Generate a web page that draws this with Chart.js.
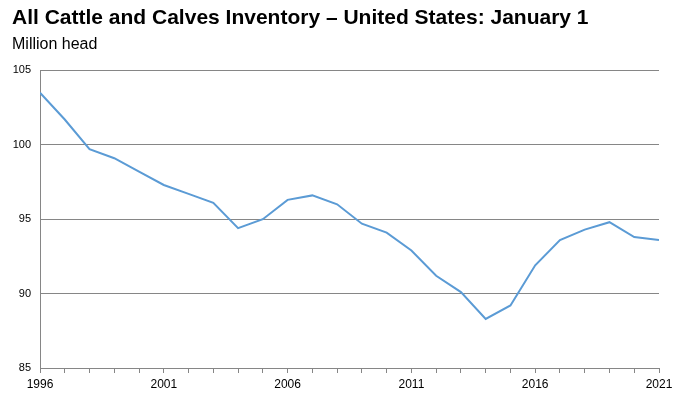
<!DOCTYPE html>
<html><head><meta charset="utf-8">
<script src="https://cdn.jsdelivr.net/npm/chart.js@4.4.0/dist/chart.umd.min.js"></script>
<style>html,body{margin:0;padding:0;background:#fff;}canvas{display:block;}</style>
</head><body>
<canvas id="c" width="684" height="402"></canvas>
<script>
const years = [1996,1997,1998,1999,2000,2001,2002,2003,2004,2005,2006,2007,2008,2009,2010,2011,2012,2013,2014,2015,2016,2017,2018,2019,2020,2021];
const inventory = [103.5,101.7,99.7,99.1,98.2,97.3,96.7,96.1,94.4,95.0,96.3,96.6,96.0,94.7,94.1,92.9,91.2,90.1,88.3,89.2,91.9,93.6,94.3,94.8,93.8,93.6];
const yTicks = [85,90,95,100,105];
const titleText = 'All Cattle and Calves Inventory – United States: January 1';
const subtitleText = 'Million head';

Chart.defaults.font.family = '"Liberation Sans", Arial, sans-serif';
const gridGray = '#868686';
new Chart(document.getElementById('c'), {
  type: 'line',
  data: {
    datasets: [{
      data: years.map((y, i) => ({x: y, y: inventory[i]})),
      borderColor: '#5B9BD5',
      borderWidth: 2,
      pointRadius: 0,
      tension: 0,
      fill: false
    }]
  },
  options: {
    responsive: false,
    devicePixelRatio: 1,
    animation: false,
    layout: {padding: {left: 12, right: 25, top: 0, bottom: 0}},
    plugins: {
      legend: {display: false},
      tooltip: {enabled: false},
      title: {display: true, text: titleText, align: 'start', color: '#000',
        font: {size: 21, weight: 'bold'}, padding: {top: 6, bottom: 4}},
      subtitle: {display: true, text: subtitleText, align: 'start', color: '#000',
        font: {size: 16}, padding: {top: 0, bottom: 16}}
    },
    scales: {
      x: {
        type: 'linear', min: years[0], max: years[years.length-1],
        afterBuildTicks: s => { s.ticks = years.map(v => ({value: v})); },
        ticks: {autoSkip: false, maxRotation: 0, color: '#000', font: {size: 12}, padding: 4,
          callback: v => ((v - years[0]) % 5 === 0 ? String(v) : '')},
        grid: {drawOnChartArea: false, drawTicks: true, tickLength: 5, color: gridGray},
        border: {display: true, color: gridGray},
        afterFit: s => { s.height = 34; }
      },
      y: {
        min: 85, max: 105,
        afterBuildTicks: s => { s.ticks = yTicks.map(v => ({value: v})); },
        ticks: {color: '#000', font: {size: 11}, padding: 9},
        grid: {drawTicks: false, color: gridGray},
        border: {display: true, color: gridGray},
        afterFit: s => { s.width = 28; }
      }
    }
  }
});
</script>
</body></html>
